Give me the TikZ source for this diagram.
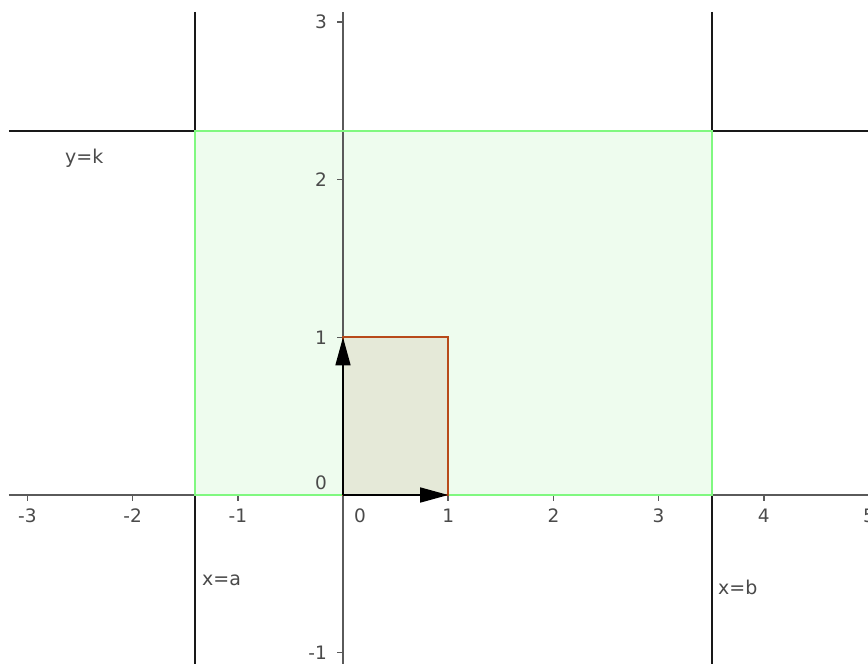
\documentclass[tikz,border=0pt]{standalone}
\usepackage{fontspec}
\setmainfont{DejaVu Sans}
\usetikzlibrary{arrows.meta}
\definecolor{axisgray}{HTML}{5A5A5A}
\definecolor{labgray}{HTML}{4A4A4A}
\definecolor{regfill}{HTML}{EEFCEE}
\definecolor{regline}{HTML}{80F880}
\definecolor{sqfill}{HTML}{E5E9D8}
\definecolor{sqline}{HTML}{B84A1A}
\tikzset{
  axisline/.style={draw=axisgray, line width=2pt},
  tickline/.style={draw=axisgray, line width=1.5pt},
  boundline/.style={draw=black!90, line width=2pt},
  ticklab/.style={text=labgray, inner sep=0pt, font=\fontsize{18.5}{22}\selectfont},
  eqlab/.style={text=labgray, inner sep=0pt, anchor=base west, font=\fontsize{19}{22}\selectfont},
  vec/.style={draw=black, line width=1.5pt, -{Triangle[length=28pt,width=15pt]}},
}
\begin{document}
\begin{tikzpicture}[x=105.2pt, y=157.7pt]
\useasboundingbox (-3.2605,-1.0653) rectangle (4.9905,3.1389);
% coordinates
\coordinate (O) at (0,0);
\coordinate (xl) at (-3.175,0);
\coordinate (xr) at (5.2,0);
\coordinate (yt) at (0,3.0628);
\coordinate (yb) at (0,-1.1);
\coordinate (at) at (-1.4068,3.0628);
\coordinate (ab) at (-1.4068,-1.1);
\coordinate (bt) at (3.5076,3.0628);
\coordinate (bb) at (3.5076,-1.1);
\coordinate (kl) at (-3.175,2.3082);
\coordinate (kr) at (5.2,2.3082);
\coordinate (A0) at (-1.4068,0);
\coordinate (BK) at (3.5076,2.3082);
\coordinate (E1) at (1,0);
\coordinate (E2) at (0,1);
\coordinate (E12) at (1,1);
% region fill
\fill[regfill] (A0) rectangle (BK);
\fill[sqfill] (O) rectangle (E12);
% axes
\draw[axisline] (xl) -- (xr);
\draw[axisline] (yb) -- (yt);
% ticks and labels on x axis
\foreach \i in {-3,-2,-1,1,2,3,4,5}{
  \draw[tickline] (\i,0) -- (\i,-0.038);
  \node[ticklab, anchor=base] (xt\i) at (\i,-0.1712) {\i};
}
\node[ticklab, anchor=base] (xt0) at (0.1616,-0.1712) {0};
% ticks and labels on y axis
\foreach \j in {-1,1,2,3}{
  \draw[tickline] (0,\j) -- (-0.057,\j);
  \node[ticklab, anchor=east] (yt\j) at (-0.152,\j) {\j};
}
\node[ticklab, anchor=east] (yt0) at (-0.152,0.0761) {0};
% boundary lines
\draw[boundline] (at) -- (ab);
\draw[boundline] (bt) -- (bb);
\draw[boundline] (kl) -- (kr);
% region border
\draw[draw=regline, line width=2pt] (A0) rectangle (BK);
% unit square border
\draw[draw=sqline, line width=2pt] (O) rectangle (E12);
% vectors
\draw[vec] (O) -- (E1);
\draw[vec] (O) -- (E2);
% equation labels
\node[eqlab] (lk) at (-2.6426,2.1052) {y=k};
\node[eqlab] (la) at (-1.3403,-0.5707) {x=a};
\node[eqlab] (lb) at (3.5646,-0.6278) {x=b};
\end{tikzpicture}
\end{document}
